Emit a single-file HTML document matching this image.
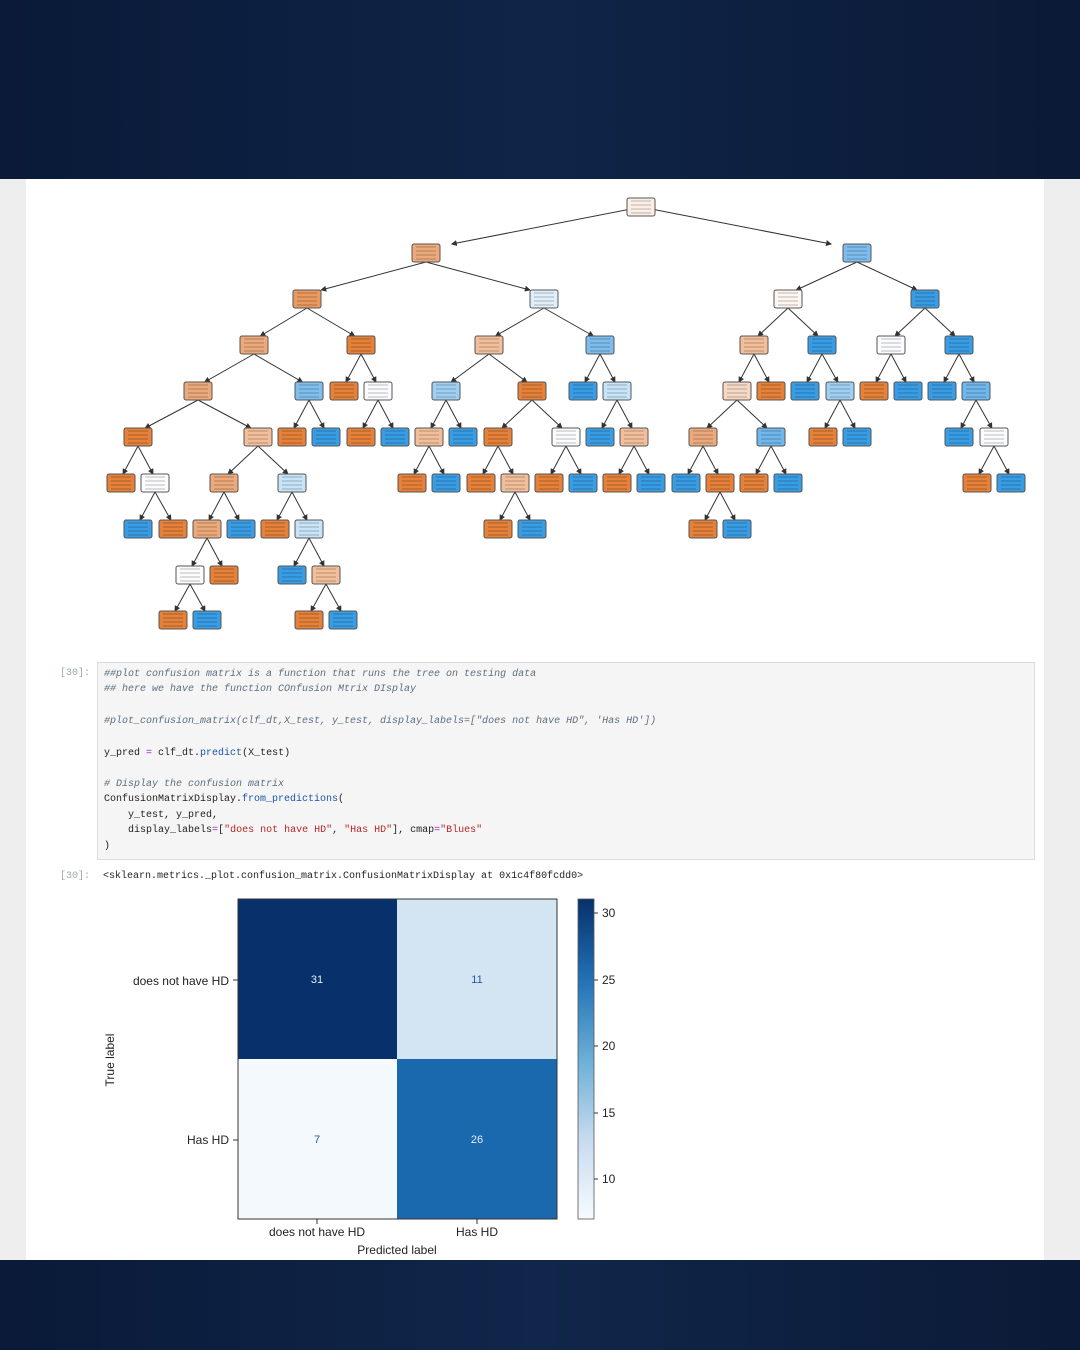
<!DOCTYPE html>
<html><head><meta charset="utf-8"><style>
html,body{margin:0;padding:0;width:1080px;height:1350px;overflow:hidden;background:#0c1a33}
#bgtop{position:absolute;left:0;top:0;width:1080px;height:179px;background:linear-gradient(90deg,#0a1a38,#0f2447 50%,#0b1a36)}
#bgbot{position:absolute;left:0;top:1260px;width:1080px;height:90px;background:linear-gradient(90deg,#0a1a38,#10264a 50%,#0b1a36)}
#page{position:absolute;left:0;top:179px;width:1080px;height:1081px;background:#eeeeee}
#nb{position:absolute;left:26px;top:0;width:1018px;height:1081px;background:#fff}
.mono{font-family:"Liberation Mono",monospace;font-size:10px;color:#222;white-space:pre}
#code{position:absolute;left:97px;top:483px;width:936px;height:196px;background:#f5f5f5;border:1px solid #dcdcdc}
.cl{position:absolute;left:6px}
.cm{color:#5c6f80;font-style:italic}
.s{color:#b5262a}.f{color:#1a55a8}.o{color:#a020c0}
.pr{position:absolute;color:#9aa;font-family:"Liberation Mono",monospace;font-size:10px}
</style></head><body>
<div id="bgtop"></div><div id="bgbot"></div>
<div id="page"><div id="nb"></div>
<div class="pr" style="left:60px;top:489px">[30]:</div>
<div id="code" class="mono">
<div class="cl cm" style="top:6px">##plot confusion matrix is a function that runs the tree on testing data</div>
<div class="cl cm" style="top:21px">## here we have the function COnfusion Mtrix DIsplay</div>
<div class="cl cm" style="top:53px">#plot_confusion_matrix(clf_dt,X_test, y_test, display_labels=["does not have HD", 'Has HD'])</div>
<div class="cl" style="top:85px">y_pred <span class="o">=</span> clf_dt.<span class="f">predict</span>(X_test)</div>
<div class="cl cm" style="top:116px"># Display the confusion matrix</div>
<div class="cl" style="top:131px">ConfusionMatrixDisplay.<span class="f">from_predictions</span>(</div>
<div class="cl" style="top:147px">    y_test, y_pred,</div>
<div class="cl" style="top:162px">    display_labels<span class="o">=</span>[<span class="s">"does not have HD"</span>, <span class="s">"Has HD"</span>], cmap<span class="o">=</span><span class="s">"Blues"</span></div>
<div class="cl" style="top:178px">)</div>
</div>
<div class="pr" style="left:60px;top:692px">[30]:</div>
<div class="mono" style="position:absolute;left:103px;top:692px">&lt;sklearn.metrics._plot.confusion_matrix.ConfusionMatrixDisplay at 0x1c4f80fcdd0&gt;</div>
</div>
<svg id="tree" width="1080" height="1350" style="position:absolute;left:0;top:0" xmlns="http://www.w3.org/2000/svg"></svg>
<svg width="1080" height="1350" style="position:absolute;left:0;top:0" xmlns="http://www.w3.org/2000/svg" font-family="Liberation Sans, sans-serif">
<rect x="238" y="899" width="159" height="160" fill="#08306b"/>
<rect x="397" y="899" width="160" height="160" fill="#d3e4f3"/>
<rect x="238" y="1059" width="159" height="160" fill="#f4f9fe"/>
<rect x="397" y="1059" width="160" height="160" fill="#1a68ae"/>
<rect x="238" y="899" width="319" height="320" fill="none" stroke="#333" stroke-width="1"/>
<g font-size="11" text-anchor="middle">
<text x="317" y="983" fill="#e8eef8">31</text><text x="477" y="983" fill="#2a5a9a">11</text>
<text x="317" y="1143" fill="#2a5a9a">7</text><text x="477" y="1143" fill="#e8eef8">26</text>
</g>
<g font-size="12" fill="#222">
<text x="229" y="985" text-anchor="end">does not have HD</text>
<text x="229" y="1144" text-anchor="end">Has HD</text>
<line x1="233" y1="980" x2="238" y2="980" stroke="#333"/><line x1="233" y1="1140" x2="238" y2="1140" stroke="#333"/>
<line x1="317" y1="1219" x2="317" y2="1224" stroke="#333"/><line x1="477" y1="1219" x2="477" y2="1224" stroke="#333"/>
<text x="317" y="1236" text-anchor="middle">does not have HD</text>
<text x="477" y="1236" text-anchor="middle">Has HD</text>
<text x="397" y="1254" text-anchor="middle">Predicted label</text>
<text transform="translate(114 1060) rotate(-90)" text-anchor="middle">True label</text>
</g>
<defs><linearGradient id="cb" x1="0" y1="1" x2="0" y2="0">
<stop offset="0" stop-color="#f7fbff"/><stop offset="0.25" stop-color="#c6dbef"/><stop offset="0.5" stop-color="#6baed6"/><stop offset="0.75" stop-color="#2171b5"/><stop offset="1" stop-color="#08306b"/></linearGradient></defs>
<rect x="578" y="899" width="16" height="320" fill="url(#cb)" stroke="#555" stroke-width="0.8"/>
<g font-size="12" fill="#222">
<line x1="594" y1="913" x2="598" y2="913" stroke="#333"/><text x="602" y="917">30</text>
<line x1="594" y1="980" x2="598" y2="980" stroke="#333"/><text x="602" y="984">25</text>
<line x1="594" y1="1046" x2="598" y2="1046" stroke="#333"/><text x="602" y="1050">20</text>
<line x1="594" y1="1113" x2="598" y2="1113" stroke="#333"/><text x="602" y="1117">15</text>
<line x1="594" y1="1179" x2="598" y2="1179" stroke="#333"/><text x="602" y="1183">10</text>
</g>
</svg>
<script>
var O="#e58139",LO="#f2bf9a",B="#399de5",LB="#9fd0f3",W="#fbfcfe",VO="#ecaa7c",VB="#c8e4f8";
var L=[207,253,299,345,391,437,483,529,575,620];
var N={};
function n(id,x,l,c){N[id]={x:x,y:L[l],c:c};}
n('r',641,0,"#fbeee5");
n('a',426,1,VO);n('b',857,1,"#7dbdee");
n('c',307,2,"#ea9a5f");n('d',544,2,"#e1effb");n('e',788,2,"#fdf6f1");n('f',925,2,B);
n('g',254,3,VO);n('h',361,3,O);n('i',489,3,LO);n('j',600,3,"#7dbdee");n('k',754,3,LO);n('l',822,3,B);n('m',891,3,W);n('o',959,3,B);
var l4=[[198,'g',VO],[309,'g',"#7fbfee"],[344,'h',O],[378,'h',W],[446,'i',LB],[532,'i',O],[583,'j',B],[617,'j',VB],[737,'k',"#f6d9c5"],[771,'k',O],[805,'l',B],[840,'l',LB],[874,'m',O],[908,'m',B],[942,'o',B],[976,'o',"#6fb7ec"]];
l4.forEach(function(a){n('4_'+a[0],a[0],4,a[2]);N['4_'+a[0]].p=a[1];});
var l5=[[138,198,O],[258,198,LO],[292,309,O],[326,309,B],[361,378,O],[395,378,B],[429,446,LO],[463,446,B],[498,532,O],[566,532,W],[600,617,B],[634,617,LO],[703,737,VO],[771,737,"#6fb7ec"],[823,840,O],[857,840,B],[959,976,B],[994,976,W]];
l5.forEach(function(a){n('5_'+a[0],a[0],5,a[2]);N['5_'+a[0]].p='4_'+a[1];});
var l6=[[121,138,O],[155,138,W],[224,258,VO],[292,258,VB],[412,429,O],[446,429,B],[481,498,O],[515,498,LO],[549,566,O],[583,566,B],[617,634,O],[651,634,B],[686,703,B],[720,703,O],[754,771,O],[788,771,B],[977,994,O],[1011,994,B]];
l6.forEach(function(a){n('6_'+a[0],a[0],6,a[2]);N['6_'+a[0]].p='5_'+a[1];});
var l7=[[138,155,B],[173,155,O],[207,224,VO],[241,224,B],[275,292,O],[309,292,VB],[498,515,O],[532,515,B],[703,720,O],[737,720,B]];
l7.forEach(function(a){n('7_'+a[0],a[0],7,a[2]);N['7_'+a[0]].p='6_'+a[1];});
var l8=[[190,207,W],[224,207,O],[292,309,B],[326,309,LO]];
l8.forEach(function(a){n('8_'+a[0],a[0],8,a[2]);N['8_'+a[0]].p='7_'+a[1];});
var l9=[[173,190,O],[207,190,B],[309,326,O],[343,326,B]];
l9.forEach(function(a){n('9_'+a[0],a[0],9,a[2]);N['9_'+a[0]].p='8_'+a[1];});
var par={a:'r',b:'r',c:'a',d:'a',e:'b',f:'b',g:'c',h:'c',i:'d',j:'d',k:'e',l:'e',m:'f',o:'f'};
for(var k in par)N[k].p=par[k];
var s='<defs><marker id="ar" markerWidth="6" markerHeight="6" refX="5" refY="3" orient="auto"><path d="M0,0 L6,3 L0,6 z" fill="#333"/></marker></defs>';
var w=28,h=18;
for(var k in N){var c=N[k];if(!c.p)continue;var p=N[c.p];
s+='<line x1="'+p.x+'" y1="'+(p.y+(p.y==207?0:h/2))+'" x2="'+(c.x+(p.x-c.x)*0.12)+'" y2="'+(c.y-h/2)+'" stroke="#333" stroke-width="1" marker-end="url(#ar)"/>';}
for(var k in N){var c=N[k];
s+='<rect x="'+(c.x-w/2)+'" y="'+(c.y-h/2)+'" width="'+w+'" height="'+h+'" rx="2" fill="'+c.c+'" stroke="#555" stroke-width="1"/>';
for(var i=0;i<4;i++)s+='<line x1="'+(c.x-10)+'" y1="'+(c.y-6+i*4)+'" x2="'+(c.x+10)+'" y2="'+(c.y-6+i*4)+'" stroke="#000" stroke-opacity="0.25" stroke-width="1"/>';}
document.getElementById('tree').innerHTML=s;
</script>
</body></html>
